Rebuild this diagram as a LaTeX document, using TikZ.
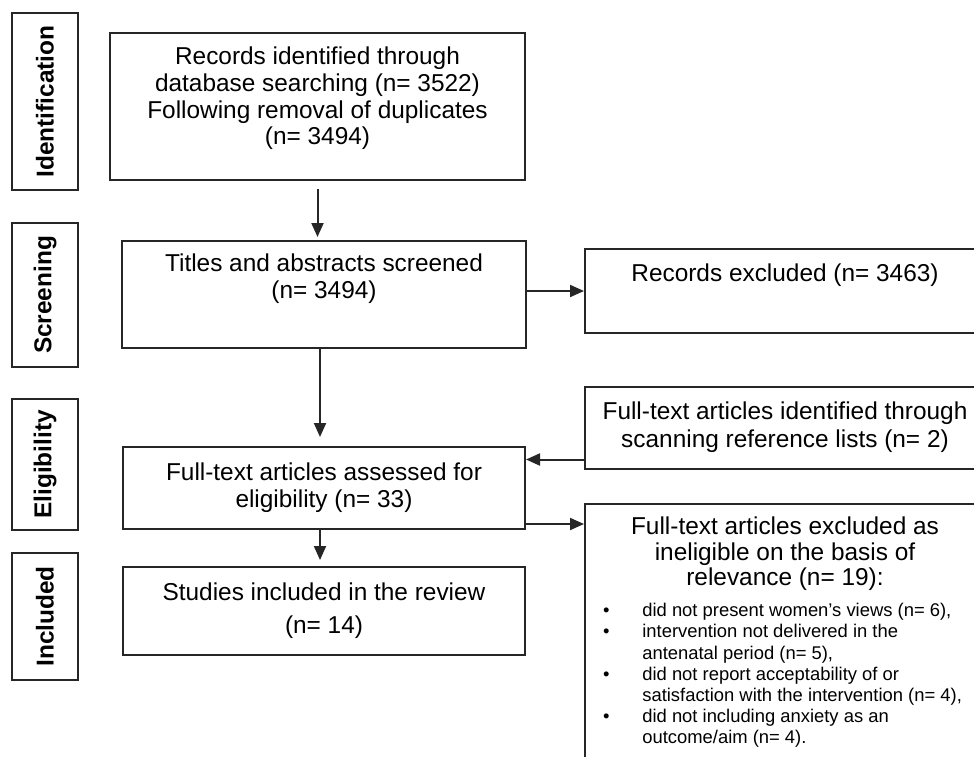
\documentclass[tikz,border=0pt]{standalone}
\usepackage{fontspec}
\setmainfont{Liberation Sans}
\usetikzlibrary{arrows.meta, positioning, calc}

\newcommand{\boxfont}{\fontsize{24.4}{26.7}\selectfont}
\newcommand{\listfont}{\fontsize{18.4}{21.2}\selectfont}

\tikzset{
    box/.style={draw=black!85, line width=2pt, inner sep=0pt},
    boxtxt/.style={align=center, inner sep=0pt, font=\boxfont},
    lbl/.style={anchor=north, align=center, inner sep=0pt, font=\boxfont},
    phase/.style={box, rotate=90, minimum height=66pt, font=\bfseries\boxfont},
    arr/.style={draw=black!85, line width=2pt, -{Triangle[length=14pt, width=12pt]}}
}

\begin{document}
\begin{tikzpicture}[x=1pt, y=-1pt]
    \useasboundingbox (0,0) rectangle (974,756);

    % phase labels on the left
    \node[phase, minimum width=177pt] (ident) at (45,101.5) {Identification};
    \node[phase, minimum width=144pt] (screen) at (45,295) {Screening};
    \node[phase, minimum width=131pt] (elig) at (45,464.5) {Eligibility};
    \node[phase, minimum width=127pt] (incl) at (45,616.5) {Included};

    % main column
    \node[box, minimum width=415pt, minimum height=147pt] (records) at (317.5,106.5) {};
    \node[lbl, below=15pt of records.north] (records-t) {Records identified through\\database searching (n= 3522)\\Following removal of duplicates\\(n= 3494)};

    \node[box, minimum width=404pt, minimum height=107pt] (titles) at (324,294.5) {};
    \node[lbl, below=14pt of titles.north] (titles-t) {Titles and abstracts screened\\(n= 3494)};

    \node[box, boxtxt, minimum width=402pt, minimum height=82pt] (assessed) at (324,488) {Full-text articles assessed for\\eligibility (n= 33)};

    \node[box, boxtxt, minimum width=402pt, minimum height=88pt, font=\fontsize{24.4}{33}\selectfont] (included) at (324,611) {Studies included in the review\\(n= 14)};

    % right column
    \node[box, minimum width=400pt, minimum height=84pt] (excl1) at (785,291) {};
    \node[lbl, below=16pt of excl1.north] (excl1-t) {Records excluded (n= 3463)};

    \node[box, boxtxt, minimum width=400pt, minimum height=82pt, font=\fontsize{24.4}{28}\selectfont] (scanned) at (785,427.5) {Full-text articles identified through\\scanning reference lists (n= 2)};

    \node[box, minimum width=400pt, minimum height=270pt] (excl2) at (785,639) {};
    \node[lbl, below=14pt of excl2.north, font=\fontsize{24.4}{25.5}\selectfont] (excl2-t) {Full-text articles excluded as\\ineligible on the basis of\\relevance (n= 19):};
    \node[anchor=north west, inner sep=0pt, font=\listfont] (reasons) at (603,601.6) {%
        \renewcommand{\arraystretch}{1}%
        \begin{tabular}{@{}c@{\hspace{32.7pt}}l@{}}
            \textbullet & did not present women’s views (n= 6),\\
            \textbullet & intervention not delivered in the\\
                        & antenatal period (n= 5),\\
            \textbullet & did not report acceptability of or\\
                        & satisfaction with the intervention (n= 4),\\
            \textbullet & did not including anxiety as an\\
                        & outcome/aim (n= 4).
        \end{tabular}};

    % connectors
    \draw[arr, shorten <=8pt, shorten >=3pt] (records.south) -- (records.south |- titles.north);
    \draw[arr, shorten >=9pt] ([xshift=-4pt]titles.south) -- ([xshift=-4pt]assessed.north);
    \draw[arr, shorten >=6pt] ([xshift=-4pt]assessed.south) -- ([xshift=-4pt]included.north);
    \draw[arr] (titles.east |- excl1.west) -- (excl1.west);
    \coordinate (scan-out) at ([yshift=10pt]scanned.south west);
    \draw[arr] (scan-out) -- (assessed.east |- scan-out);
    \coordinate (elig-out) at ([yshift=6pt]assessed.south east);
    \draw[arr] (elig-out) -- (elig-out -| excl2.west);
\end{tikzpicture}
\end{document}
